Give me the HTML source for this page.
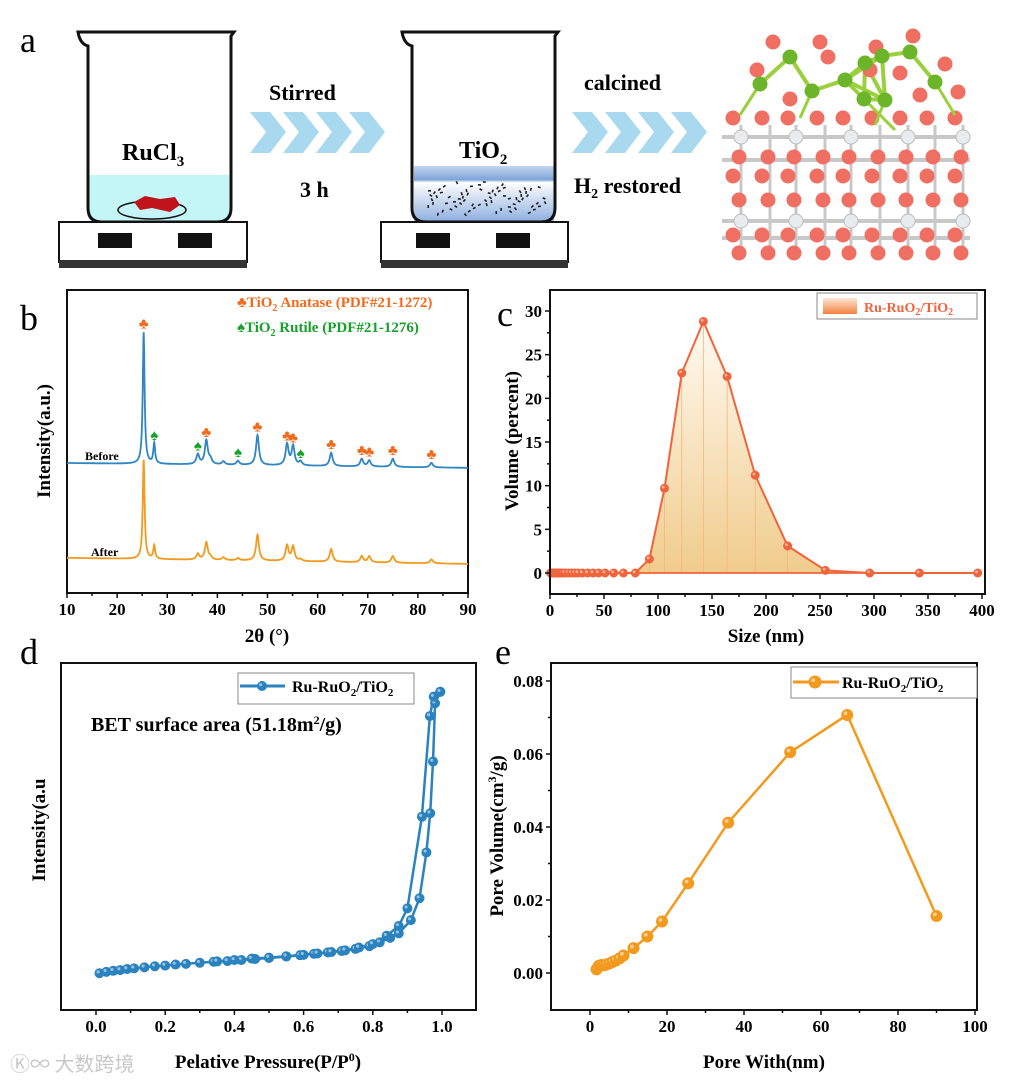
<!DOCTYPE html>
<html><head><meta charset="utf-8"><style>
html,body{margin:0;padding:0;background:#fff;}
svg{display:block;font-family:"Liberation Serif","Noto Serif CJK SC",serif;}
.tk{font-weight:bold;font-size:17px;}
.tt{font-weight:bold;font-size:19px;}
.pl{font-size:36px;}
</style></head><body>
<svg id="fig" width="1013" height="1082" viewBox="0 0 1013 1082" xmlns="http://www.w3.org/2000/svg">
<defs>
<linearGradient id="liq2" x1="0" y1="0" x2="0" y2="1"><stop offset="0" stop-color="#c3d6f0"/><stop offset="0.25" stop-color="#7fa4d8"/><stop offset="0.3" stop-color="#ffffff"/><stop offset="1" stop-color="#8fb0e0"/></linearGradient>
<linearGradient id="fillc" x1="0" y1="0" x2="0" y2="1"><stop offset="0" stop-color="#fffaf3"/><stop offset="1" stop-color="#f0cc8c"/></linearGradient>
<linearGradient id="legc" x1="0" y1="0" x2="0" y2="1"><stop offset="0" stop-color="#fde6d6"/><stop offset="1" stop-color="#f2823f"/></linearGradient>
</defs>

<g>
<text class="pl" x="20" y="52">a</text>
<g>
<rect x="89" y="175" width="140" height="46" fill="#c4f6f8"/>
<path d="M78 32 L234 32 L231 36 L231 208 Q231 222 217 222 L102 222 Q88 222 88 208 L88 46 Q80 44 78 32 Z" fill="none" stroke="#111" stroke-width="3"/>
<ellipse cx="152" cy="210" rx="34" ry="9" fill="none" stroke="#111" stroke-width="1.5"/>
<path d="M134 202 L145 196 L160 199 L175 197 L180 205 L170 212 L152 208 L140 210 Z" fill="#c0141c"/>
<text x="122" y="160" font-size="24" font-weight="bold">RuCl<tspan font-size="15" dy="6">3</tspan></text>
</g>
<g>
<rect x="59" y="222" width="188" height="40" fill="#fff" stroke="#111" stroke-width="2"/>
<rect x="59" y="260" width="188" height="8" fill="#333"/>
<rect x="98" y="233" width="34" height="15" fill="#111"/><rect x="178" y="233" width="34" height="15" fill="#111"/>
</g>
<g>
<rect x="414" y="166" width="140" height="55" fill="url(#liq2)"/>
<path d="M402 32 L558 32 L555 36 L555 208 Q555 222 541 222 L426 222 Q412 222 412 208 L412 46 Q404 44 402 32 Z" fill="none" stroke="#111" stroke-width="3"/>
<g id="specks" fill="#222"></g>
<text x="459" y="158" font-size="24" font-weight="bold">TiO<tspan font-size="15" dy="6">2</tspan></text>
</g>
<g>
<rect x="381" y="222" width="187" height="40" fill="#fff" stroke="#111" stroke-width="2"/>
<rect x="381" y="260" width="187" height="8" fill="#333"/>
<rect x="416" y="233" width="34" height="15" fill="#111"/><rect x="496" y="233" width="34" height="15" fill="#111"/>
</g>
<g id="chev1"></g>
<g id="chev2"></g>
<text x="269" y="100" font-size="22" font-weight="bold">Stirred</text>
<text x="300" y="197" font-size="22" font-weight="bold">3 h</text>
<text x="584" y="90" font-size="22" font-weight="bold">calcined</text>
<text x="574" y="193" font-size="22" font-weight="bold">H<tspan font-size="14" dy="5">2</tspan><tspan dy="-5"> restored</tspan></text>
<g id="crystal"></g>
</g>

<g id="pb">
<text class="pl" x="20" y="330">b</text>
</g>
<g id="pc">
<text class="pl" x="497" y="326">c</text>
</g>
<g id="pd">
<text class="pl" x="20" y="664">d</text>
</g>
<g id="pe">
<text class="pl" x="495" y="664">e</text>
</g>
<text x="10" y="1071" font-size="20" fill="#c8c8c8" font-family="'Noto Sans CJK SC',sans-serif">Ⓚ∞ 大数跨境</text>
</svg>
<script>
const xrdPeakPos = [25.3,27.4,36.1,37.8,38.6,41.2,44.1,48.0,53.9,55.1,56.6,62.7,68.8,70.3,75.0,82.7];
const xrdBeforeHeights = [43.4,6.7,3.3,7.9,1.6,1.1,1.3,9.9,7.0,6.4,1.3,4.4,2.5,2.0,2.7,1.5];
const xrdAfterHeights = [32.7,4.4,1.9,5.7,0.8,0.9,0.7,8.5,5.1,4.8,0.6,4.2,2.0,2.0,2.2,1.3];
const xrdBaseBefore = [42.9,41.3];
const xrdBaseAfter = [11.6,9.6];
const anatasePos = [25.3,37.8,48.0,53.9,55.1,62.7,68.8,70.3,75.0,82.7];
const rutilePos = [27.4,36.1,44.1,56.6];
const xrdTicks = [10,20,30,40,50,60,70,80,90];
const sizeNm = [0.5,1.5,2.5,3.5,4.5,5.5,6.5,7.5,9,10.5,12,14,17,20,23,26,30,35,40,45,51,59,68,79,92,106,122,142,164,190,220,255,296,342,396];
const volumePct = [0,0,0,0,0,0,0,0,0,0,0,0,0,0,0,0,0,0,0,0,0,0,0,0,1.6,9.7,22.9,28.8,22.5,11.2,3.1,0.3,0,0,0];
const sizeTicks = [0,50,100,150,200,250,300,350,400];
const volTicks = [0,5,10,15,20,25,30];
const adsP = [0.01,0.03,0.05,0.07,0.09,0.11,0.14,0.17,0.20,0.23,0.26,0.30,0.34,0.38,0.42,0.46,0.50,0.55,0.59,0.63,0.67,0.71,0.75,0.79,0.82,0.85,0.875,0.91,0.935,0.955,0.966,0.974,0.98,0.995];
const adsV = [10.6,11.0,11.3,11.5,11.8,12.0,12.3,12.6,12.8,13.1,13.3,13.6,13.9,14.1,14.4,14.7,15.0,15.4,15.8,16.2,16.6,17.0,17.6,18.4,19.5,20.8,22.1,25.9,32.2,45.4,56.7,71.6,88.4,91.7];
const desP = [0.995,0.976,0.965,0.942,0.90,0.875,0.84,0.80,0.76,0.72,0.68,0.64,0.60,0.55,0.50,0.45,0.40,0.35];
const desV = [91.7,90.3,84.7,55.7,29.3,24.2,21.4,19.0,18.0,17.2,16.7,16.3,15.9,15.5,15.1,14.8,14.4,14.0];
const pTicks = [0,0.2,0.4,0.6,0.8,1.0];
const poreW = [1.7,2.3,2.9,3.5,4.2,5.0,5.8,6.7,7.7,8.7,11.3,14.9,18.7,25.5,35.9,52.0,66.8,90.0];
const poreV = [0.0010,0.0020,0.0022,0.0021,0.0023,0.0026,0.0030,0.0034,0.0040,0.0048,0.0068,0.0100,0.0141,0.0246,0.0412,0.0605,0.0707,0.0156];
const wTicks = [0,20,40,60,80,100];
const pvTicks = [0,0.02,0.04,0.06,0.08];

const NS='http://www.w3.org/2000/svg';
function mk(parent,tag,attrs,txt){const e=document.createElementNS(NS,tag);for(const k in attrs)e.setAttribute(k,attrs[k]);if(txt!==undefined)e.textContent=txt;parent.appendChild(e);return e;}
function lin(d0,d1,r0,r1){return v=>r0+(v-d0)*(r1-r0)/(d1-d0);}

(function(){
 const s=document.getElementById('specks');
 for(let i=0;i<70;i++){const x=428+((i*37)%118), y=190+((i*53)%28)-((i%7)*2);
  const e=mk(s,'rect',{x:x,y:y,width:3,height:1.6,transform:`rotate(${(i*47)%180} ${x} ${y})`});
  }
 function chev(g,x0){for(let i=0;i<4;i++){const x=x0+i*33;
  const p=mk(g,'polygon',{points:`${x},112 ${x+20},112 ${x+36},132 ${x+20},153 ${x},153 ${x+16},132`,fill:'#a9d9ef'});
  }}
 chev(document.getElementById('chev1'),250);
 chev(document.getElementById('chev2'),572);
 const c=document.getElementById('crystal');
 const cols=[733,762,788,817,843,872,900,927,955];
 [137,160,221,238].forEach(y=>mk(c,'line',{x1:722,y1:y,x2:970,y2:y,stroke:'#c8c8c8','stroke-width':4}));
 cols.forEach(x=>{mk(c,'line',{x1:x+8,y1:125,x2:x+8,y2:250,stroke:'#c8c8c8','stroke-width':3});});
 const redRows=[118,157,176,200,235,253], whiteRows=[137,221];
 redRows.forEach((y,r)=>cols.forEach((x,i)=>{const e=mk(c,'circle',{cx:x+(r%2?6:0),cy:y,r:7.5,fill:'#ef6f62'});}));
 whiteRows.forEach(y=>cols.forEach((x,i)=>{if(i%2==0){const e=mk(c,'circle',{cx:x+8,cy:y,r:7,fill:'#e8ecef',stroke:'#bbb'});}}));
 const green=[[760,84],[790,57],[812,91],[845,80],[865,63],[864,99],[885,100],[910,52],[935,82],[882,56]];
 const reds=[[773,42],[820,42],[757,70],[828,57],[790,99],[876,47],[913,36],[945,64],[958,92],[920,95],[870,70],[900,73]];
 for(let i=0;i<green.length;i++)for(let j=i+1;j<green.length;j++){const a=green[i],b=green[j];if(Math.hypot(a[0]-b[0],a[1]-b[1])<45)mk(c,'line',{x1:a[0],y1:a[1],x2:b[0],y2:b[1],stroke:'#9ad03c','stroke-width':4});}
 [[760,84,740,115],[812,91,800,118],[885,100,875,125],[864,99,895,130],[935,82,955,115]].forEach(l=>mk(c,'line',{x1:l[0],y1:l[1],x2:l[2],y2:l[3],stroke:'#9ad03c','stroke-width':3}));
 reds.forEach(p=>{const e=mk(c,'circle',{cx:p[0],cy:p[1],r:7.5,fill:'#ef6f62'});});
 green.forEach(p=>{const e=mk(c,'circle',{cx:p[0],cy:p[1],r:7.5,fill:'#6cb52a'});});
})();

function frame(g,x0,y0,x1,y1){const r=mk(g,'rect',{x:x0,y:y0,width:x1-x0,height:y1-y0,fill:'none',stroke:'#111','stroke-width':2});}
function xaxis(g,ticks,sx,yb,fmt){
 ticks.forEach(t=>{const x=sx(t);mk(g,'line',{x1:x,y1:yb,x2:x,y2:yb+5,stroke:'#111','stroke-width':1.5});
  const e=mk(g,'text',{x:x,y:yb+22,class:'tk','text-anchor':'middle'},fmt(t));});
 for(let i=0;i<ticks.length-1;i++){const x=sx((ticks[i]+ticks[i+1])/2);mk(g,'line',{x1:x,y1:yb,x2:x,y2:yb+3,stroke:'#111','stroke-width':1.5});}
}
function yaxis(g,ticks,sy,xl,fmt){
 ticks.forEach(t=>{const y=sy(t);mk(g,'line',{x1:xl,y1:y,x2:xl-5,y2:y,stroke:'#111','stroke-width':1.5});
  const e=mk(g,'text',{x:xl-8,y:y+6,class:'tk','text-anchor':'end'},fmt(t));});
 for(let i=0;i<ticks.length-1;i++){const y=sy((ticks[i]+ticks[i+1])/2);mk(g,'line',{x1:xl,y1:y,x2:xl-3,y2:y,stroke:'#111','stroke-width':1.5});}
}
function ytitle(g,x,y,txt,name){const e=mk(g,'text',{x:x,y:y,class:'tt','text-anchor':'middle',transform:`rotate(-90 ${x} ${y})`});e.innerHTML=txt;}
function xtitle(g,x,y,txt,name){const e=mk(g,'text',{x:x,y:y,class:'tt','text-anchor':'middle'});e.innerHTML=txt;}
function marker(g,x,y,r,fill,name){const e=mk(g,'circle',{cx:x,cy:y,r:r,fill:fill,stroke:fill,'stroke-width':1});
 mk(g,'circle',{cx:x-r*0.3,cy:y-r*0.3,r:r*0.35,fill:'#fff','fill-opacity':0.5});}

(function(){
 const g=document.getElementById('pb');
 const sx=lin(10,90,67,468), sy=lin(0,100,593,290);
 frame(g,67,290,468,593);
 xaxis(g,xrdTicks,sx,593,t=>t);
 function curve(h,base,col,name){let d='';
  for(let x=10;x<=90.001;x+=0.05){let v=base[0]+(base[1]-base[0])*(x-10)/80;
   xrdPeakPos.forEach((p,i)=>{const w=p<30?0.22:0.35;v+=h[i]/(1+((x-p)/w)**2);});
   d+=(d?'L':'M')+sx(x).toFixed(1)+' '+sy(v).toFixed(1);}
  const e=mk(g,'path',{d:d,fill:'none',stroke:col,'stroke-width':1.8});}
 curve(xrdBeforeHeights,xrdBaseBefore,'#2f86c2','line-before');
 curve(xrdAfterHeights,xrdBaseAfter,'#f29a1e','line-after');
 function topAt(p){const i=xrdPeakPos.indexOf(p);return xrdBaseBefore[0]+(xrdBaseBefore[1]-xrdBaseBefore[0])*(p-10)/80+xrdBeforeHeights[i];}
 anatasePos.forEach(p=>{const e=mk(g,'text',{x:sx(p),y:sy(topAt(p))-4,'text-anchor':'middle','font-size':15,fill:'#f26a1b'},'♣');});
 rutilePos.forEach(p=>{const e=mk(g,'text',{x:sx(p),y:sy(topAt(p))-4,'text-anchor':'middle','font-size':15,fill:'#15a12a'},'♠');});
 let e=mk(g,'text',{x:237,y:307,'font-size':15,'font-weight':'bold',fill:'#f26a1b'});e.innerHTML='♣TiO<tspan font-size="10" dy="4">2</tspan><tspan dy="-4">  Anatase (PDF#21-1272)</tspan>';
 e=mk(g,'text',{x:237,y:332,'font-size':15,'font-weight':'bold',fill:'#15a12a'});e.innerHTML='♠TiO<tspan font-size="10" dy="4">2</tspan><tspan dy="-4">  Rutile (PDF#21-1276)</tspan>';
 e=mk(g,'text',{x:85,y:460,'font-size':12,'font-weight':'bold'},'Before');
 e=mk(g,'text',{x:91,y:556,'font-size':12,'font-weight':'bold'},'After');
 xtitle(g,267,642,'2θ (°)','x-axis-title-b');
 ytitle(g,50,441,'Intensity(a.u.)','y-axis-title-b');
})();

(function(){
 const g=document.getElementById('pc');
 const sx=lin(0,400,550,982), sy=lin(0,30,573,311);
 let d='M'+sx(sizeNm[0])+' '+sy(0);
 sizeNm.forEach((s,i)=>d+='L'+sx(s).toFixed(1)+' '+sy(volumePct[i]).toFixed(1));
 d+='L'+sx(sizeNm[sizeNm.length-1])+' '+sy(0)+'Z';
 let e=mk(g,'path',{d:d,fill:'url(#fillc)'});
 sizeNm.forEach((s,i)=>{if(volumePct[i]>0.5)mk(g,'line',{x1:sx(s),y1:sy(volumePct[i]),x2:sx(s),y2:sy(0),stroke:'#f3b77a','stroke-width':0.8});});
 mk(g,'line',{x1:sx(0),y1:sy(0),x2:sx(400),y2:sy(0),stroke:'#f0643c','stroke-width':1.8});
 e=mk(g,'polyline',{points:sizeNm.map((s,i)=>sx(s).toFixed(1)+','+sy(volumePct[i]).toFixed(1)).join(' '),fill:'none',stroke:'#f0643c','stroke-width':2});
 sizeNm.forEach((s,i)=>marker(g,sx(s),sy(volumePct[i]),4,'#f0643c','size-point'));
 frame(g,550,290,985,594);
 xaxis(g,sizeTicks,sx,594,t=>t);
 yaxis(g,volTicks,sy,550,t=>t);
 e=mk(g,'rect',{x:817,y:293,width:160,height:26,fill:'#fff',stroke:'#888','stroke-width':1});
 mk(g,'rect',{x:823,y:298,width:34,height:16,fill:'url(#legc)'});
 e=mk(g,'text',{x:864,y:312,'font-size':14,'font-weight':'bold',fill:'#f0643c'});e.innerHTML='Ru-RuO<tspan font-size="10" dy="3">2</tspan><tspan dy="-3">/TiO</tspan><tspan font-size="10" dy="3">2</tspan>';
 xtitle(g,766,642,'Size (nm)','x-axis-title-c');
 ytitle(g,518,441,'Volume (percent)','y-axis-title-c');
})();

(function(){
 const g=document.getElementById('pd');
 const sx=lin(0,1,96,442), sy=lin(0,100,1010,663);
 frame(g,61,663,476,1010);
 xaxis(g,pTicks,sx,1010,t=>t.toFixed(1));
 let e=mk(g,'polyline',{points:adsP.map((p,i)=>sx(p).toFixed(1)+','+sy(adsV[i]).toFixed(1)).join(' '),fill:'none',stroke:'#2a82bf','stroke-width':2.5});
 e=mk(g,'polyline',{points:desP.map((p,i)=>sx(p).toFixed(1)+','+sy(desV[i]).toFixed(1)).join(' '),fill:'none',stroke:'#2a82bf','stroke-width':2.5});
 adsP.forEach((p,i)=>marker(g,sx(p),sy(adsV[i]),4.5,'#2a82bf','adsorption-point'));
 desP.forEach((p,i)=>marker(g,sx(p),sy(desV[i]),4.5,'#2a82bf','desorption-point'));
 e=mk(g,'rect',{x:238,y:673,width:176,height:31,fill:'#fff',stroke:'#888','stroke-width':1});
 mk(g,'line',{x1:240,y1:686,x2:285,y2:686,stroke:'#2a82bf','stroke-width':3});marker(g,262,686,4.5,'#2a82bf','legend-marker-d');
 e=mk(g,'text',{x:292,y:692,'font-size':16,'font-weight':'bold'});e.innerHTML='Ru-RuO<tspan font-size="11" dy="4">2</tspan><tspan dy="-4">/TiO</tspan><tspan font-size="11" dy="4">2</tspan>';
 e=mk(g,'text',{x:91,y:731,'font-size':20,'font-weight':'bold'});e.innerHTML='BET surface area (51.18m<tspan font-size="12" dy="-7">2</tspan><tspan dy="7">/g)</tspan>';
 xtitle(g,268,1068,'Pelative Pressure(P/P<tspan font-size="12" dy="-7">0</tspan><tspan dy="7">)</tspan>','x-axis-title-d');
 ytitle(g,45,830,'Intensity(a.u','y-axis-title-d');
})();

(function(){
 const g=document.getElementById('pe');
 const sx=lin(0,100,590,975), sy=lin(0,0.08,973,681);
 frame(g,551,663,977,1010);
 xaxis(g,wTicks,sx,1010,t=>t);
 yaxis(g,pvTicks,sy,551,t=>t.toFixed(2));
 let e=mk(g,'polyline',{points:poreW.map((w,i)=>sx(w).toFixed(1)+','+sy(poreV[i]).toFixed(1)).join(' '),fill:'none',stroke:'#f29a1e','stroke-width':2.5});
 poreW.forEach((w,i)=>marker(g,sx(w),sy(poreV[i]),5.5,'#f29a1e','pore-point'));
 e=mk(g,'rect',{x:791,y:667,width:186,height:31,fill:'#fff',stroke:'#888','stroke-width':1});
 mk(g,'line',{x1:793,y1:682,x2:839,y2:682,stroke:'#f29a1e','stroke-width':3});marker(g,815,682,6,'#f29a1e','legend-marker-e');
 e=mk(g,'text',{x:842,y:688,'font-size':16,'font-weight':'bold'});e.innerHTML='Ru-RuO<tspan font-size="11" dy="4">2</tspan><tspan dy="-4">/TiO</tspan><tspan font-size="11" dy="4">2</tspan>';
 xtitle(g,764,1068,'Pore With(nm)','x-axis-title-e');
 ytitle(g,503,836,'Pore Volume(cm<tspan font-size="12" dy="-7">3</tspan><tspan dy="7">/g)</tspan>','y-axis-title-e');
})();
</script>
</body></html>
